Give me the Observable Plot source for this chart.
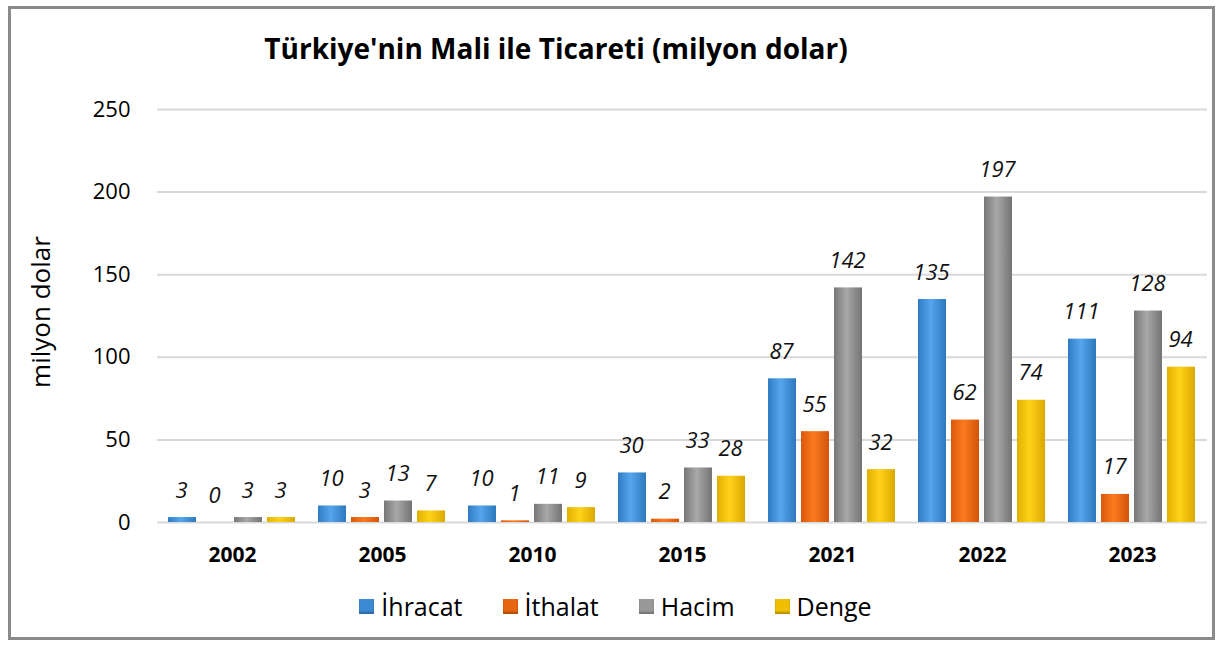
<!DOCTYPE html>
<html>
<head>
<meta charset="utf-8">
<script src="https://cdn.jsdelivr.net/npm/d3@7"></script>
<script src="https://cdn.jsdelivr.net/npm/@observablehq/plot@0.6"></script>
<style>
  html, body { margin: 0; padding: 0; background: #fff; }
  body { width: 1223px; height: 645px; position: relative; overflow: hidden; font-family: "Open Sans", "Noto Sans", sans-serif; }
  #frame { position: absolute; left: 8px; top: 6px; width: 1207px; height: 634px; box-sizing: border-box; border: 3px solid #8a8a8a; }
  #title { position: absolute; left: 0; width: 1112px; top: 30px; text-align: center; font-weight: 700; font-size: 28px; color: #000; line-height: 36px; }
  #chart { position: absolute; left: 0; top: 0; }
  #ylabel { position: absolute; left: 40px; top: 312px; transform: translate(-50%, -50%) rotate(-90deg); font-size: 26px; white-space: nowrap; }
  #legend { position: absolute; left: 0; width: 1223px; top: 588px; display: flex; justify-content: center; gap: 40px; font-size: 25px; padding-left: 8px; box-sizing: border-box; line-height: 36px; }
  #legend .item { display: flex; align-items: center; gap: 7px; }
  #legend .sw { width: 15px; height: 15px; display: inline-block; }
</style>
</head>
<body>
<div id="frame"></div>
<div id="title">Türkiye'nin Mali ile Ticareti (milyon dolar)</div>
<div id="ylabel">milyon dolar</div>
<div id="chart"></div>
<div id="legend"></div>
<svg width="0" height="0" style="position:absolute">
  <defs>
    <linearGradient id="gBlue" x1="0" x2="1" y1="0" y2="0">
      <stop offset="0" stop-color="#2f7cc4"/><stop offset="0.45" stop-color="#55a6ee"/><stop offset="1" stop-color="#2d78bd"/>
    </linearGradient>
    <linearGradient id="gOrange" x1="0" x2="1" y1="0" y2="0">
      <stop offset="0" stop-color="#d9580a"/><stop offset="0.45" stop-color="#fb7a1f"/><stop offset="1" stop-color="#d2540a"/>
    </linearGradient>
    <linearGradient id="gGray" x1="0" x2="1" y1="0" y2="0">
      <stop offset="0" stop-color="#777"/><stop offset="0.45" stop-color="#a8a8a8"/><stop offset="1" stop-color="#747474"/>
    </linearGradient>
    <linearGradient id="gYellow" x1="0" x2="1" y1="0" y2="0">
      <stop offset="0" stop-color="#e0b000"/><stop offset="0.45" stop-color="#ffd21a"/><stop offset="1" stop-color="#dba800"/>
    </linearGradient>
  </defs>
</svg>
<script>
const years = ["2002", "2005", "2010", "2015", "2021", "2022", "2023"];
const seriesNames = ["İhracat", "İthalat", "Hacim", "Denge"];
const ihracat = [3, 10, 10, 30, 87, 135, 111];
const ithalat = [0, 3, 1, 2, 55, 62, 17];
const hacim   = [3, 13, 11, 33, 142, 197, 128];
const denge   = [3, 7, 9, 28, 32, 74, 94];
const yTicks = [0, 50, 100, 150, 200, 250];
const fills = ["url(#gBlue)", "url(#gOrange)", "url(#gGray)", "url(#gYellow)"];
const swatchColors = ["#3b8ad4", "#e8650f", "#999", "#f0c000"];

const seriesValues = [ihracat, ithalat, hacim, denge];
const data = [];
years.forEach((y, i) => seriesNames.forEach((s, j) => data.push({year: y, series: s, value: seriesValues[j][i]})));

const plot = Plot.plot({
  width: 1223,
  height: 580,
  marginTop: 109,
  marginBottom: 58,
  marginLeft: 157,
  marginRight: 16,
  style: {fontFamily: '"Open Sans", "Noto Sans", sans-serif', background: "transparent", overflow: "visible", color: "#000"},
  fx: {domain: years, padding: 0, label: null},
  x: {domain: seriesNames, axis: null, paddingInner: 0.15, paddingOuter: 0.325},
  y: {domain: [0, 250], label: null},
  color: {domain: seriesNames, range: fills},
  marks: [
    Plot.gridY(yTicks, {stroke: "#d9d9d9", strokeOpacity: 1, strokeWidth: 2}),
    Plot.axisY(yTicks, {tickSize: 0, tickPadding: 27, fontSize: 22, label: null}),
    Plot.axisFx({anchor: "bottom", tickSize: 0, tickPadding: 25, fontSize: 21, fontWeight: "bold", label: null}),
    Plot.barY(data, {fx: "year", x: "series", y: "value", fill: "series"}),
    Plot.text(data, {fx: "year", x: "series", y: "value", text: d => String(d.value), dy: -27, dx: -1, fontSize: 22, fontStyle: "italic", fill: "#111"}),
  ]
});
document.getElementById("chart").appendChild(plot);

const legend = document.getElementById("legend");
seriesNames.forEach((s, i) => {
  const it = document.createElement("div");
  it.className = "item";
  const sw = document.createElement("span");
  sw.className = "sw";
  sw.style.background = swatchColors[i];
  sw.style.boxShadow = "inset 0 -2px 2px rgba(0,0,0,0.25)";
  const tx = document.createElement("span");
  tx.textContent = s;
  it.appendChild(sw); it.appendChild(tx);
  legend.appendChild(it);
});
</script>
</body>
</html>
